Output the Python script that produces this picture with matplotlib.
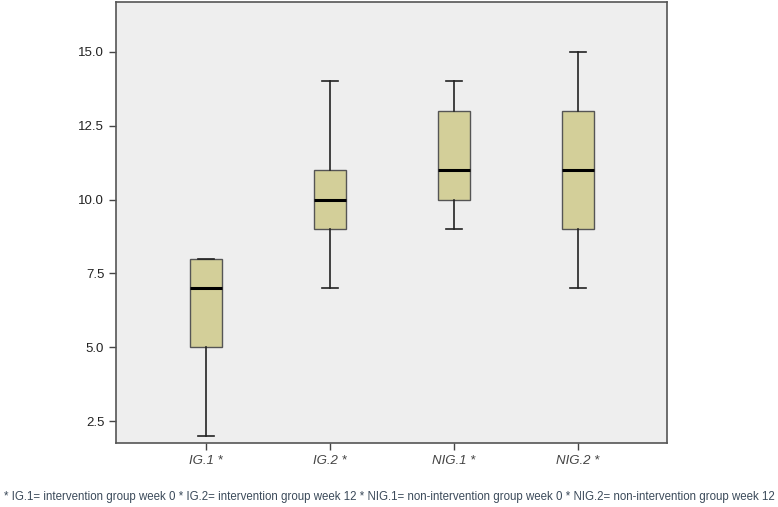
import matplotlib
matplotlib.use("Agg")
import matplotlib.pyplot as plt

# five-number summaries
groups = ["IG.1 *", "IG.2 *", "NIG.1 *", "NIG.2 *"]
whislo = [2, 7, 9, 7]
q1     = [5, 9, 10, 9]
med    = [7, 10, 11, 11]
q3     = [8, 11, 13, 13]
whishi = [8, 14, 14, 15]
yticks = [2.5, 5.0, 7.5, 10.0, 12.5, 15.0]
footnote = ("* IG.1= intervention group week 0 * IG.2= intervention group week 12 "
            "* NIG.1= non-intervention group week 0 * NIG.2= non-intervention group week 12")

plt.rcParams['font.family'] = ['Liberation Sans', 'DejaVu Sans']

stats = []
for i, g in enumerate(groups):
    stats.append(dict(label=g, whislo=whislo[i], q1=q1[i], med=med[i],
                      q3=q3[i], whishi=whishi[i], fliers=[]))

fig = plt.figure(figsize=(7.78, 5.07), dpi=100)
ax = fig.add_axes([116/778, 64/507, 551/778, 441/507])
ax.set_facecolor('#eeeeee')

ax.bxp(stats, positions=[1, 2, 3, 4], widths=0.26, patch_artist=True,
       showfliers=False,
       boxprops=dict(facecolor='#d3cf99', edgecolor='#555555', linewidth=1.0),
       medianprops=dict(color='black', linewidth=2.2),
       whiskerprops=dict(color='#222222', linewidth=1.2),
       capprops=dict(color='#222222', linewidth=1.2),
       capwidths=0.13)

ax.set_xlim(0.274, 4.72)
ax.set_ylim(1.755, 16.69)
ax.set_yticks(yticks)
ax.set_yticklabels(["%.1f" % v for v in yticks], fontsize=9.5, color='#222222')
ax.set_xticks([1, 2, 3, 4])
ax.set_xticklabels(groups, fontsize=9.5, style='italic', color='#444444')
ax.tick_params(direction='out', length=5, width=1, color='#444444')

for s in ax.spines.values():
    s.set_color('#555555')
    s.set_linewidth(1.2)

fig.text(0.5, 10/507, footnote, ha='center', va='center', fontsize=8.3, color='#3b4a5a')

fig.savefig("out.png", dpi=100)
